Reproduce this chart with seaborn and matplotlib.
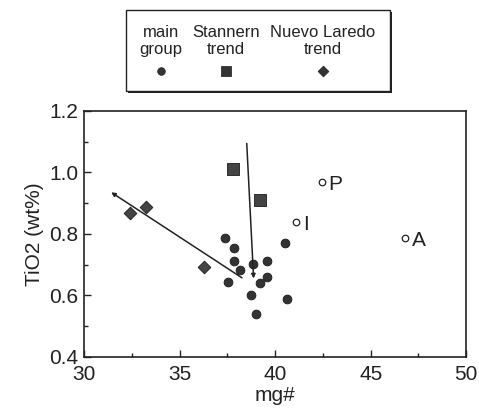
import matplotlib
matplotlib.use("Agg")
import matplotlib.pyplot as plt
from matplotlib.patches import Rectangle
import seaborn as sns
import pandas as pd

# Main group eucrites
main_mg = [37.36, 37.85, 37.83, 38.14, 37.54, 38.85, 39.57, 39.55, 39.22, 38.73, 39.01, 40.49, 40.64]
main_ti = [0.785, 0.753, 0.712, 0.683, 0.643, 0.702, 0.711, 0.661, 0.640, 0.601, 0.539, 0.770, 0.589]
# Stannern trend
stan_mg = [37.81, 39.22]
stan_ti = [1.011, 0.910]
# Nuevo Laredo trend
nl_mg = [32.40, 33.21, 36.27]
nl_ti = [0.868, 0.886, 0.693]
# Labelled individual samples
other_names = ["P", "I", "A"]
other_mg = [42.45, 41.11, 46.79]
other_ti = [0.968, 0.840, 0.785]
# Trend arrows: (start mg, start TiO2) -> (end mg, end TiO2)
nl_arrow = [(38.26, 0.657), (31.41, 0.935)]
stan_arrow = [(38.51, 1.094), (38.87, 0.655)]

sns.set_style("ticks")
plt.rcParams["font.family"] = ["Liberation Sans", "DejaVu Sans"]

fig = plt.figure(figsize=(4.79, 4.15), dpi=100)
ax = fig.add_axes([0.176, 0.140, 0.797, 0.593])

df = pd.concat([
    pd.DataFrame({"mg": main_mg, "ti": main_ti, "grp": "main"}),
    pd.DataFrame({"mg": stan_mg, "ti": stan_ti, "grp": "stannern"}),
    pd.DataFrame({"mg": nl_mg, "ti": nl_ti, "grp": "nl"}),
], ignore_index=True)

sns.scatterplot(data=df[df.grp == "main"], x="mg", y="ti", marker="o", s=40,
                color="#333333", edgecolor="#1a1a1a", linewidth=0.6, ax=ax, zorder=3)
sns.scatterplot(data=df[df.grp == "stannern"], x="mg", y="ti", marker="s", s=80,
                color="#444444", edgecolor="#1a1a1a", linewidth=0.6, ax=ax, zorder=3)
sns.scatterplot(data=df[df.grp == "nl"], x="mg", y="ti", marker="D", s=42,
                color="#444444", edgecolor="#1a1a1a", linewidth=0.6, ax=ax, zorder=3)
sns.scatterplot(x=other_mg, y=other_ti, marker="o", s=22, facecolor="white",
                edgecolor="#222222", linewidth=0.9, ax=ax, zorder=3)
for name, x, y in zip(other_names, other_mg, other_ti):
    ax.text(x + 0.35, y - 0.008, name, fontsize=15, va="center", ha="left", color="#222222")

for (x0, y0), (x1, y1) in (nl_arrow, stan_arrow):
    ax.annotate("", xy=(x1, y1), xytext=(x0, y0),
                arrowprops=dict(arrowstyle="-|>", color="#222222", lw=1.1,
                                mutation_scale=6, shrinkA=0, shrinkB=0))

ax.set_xlim(30, 50)
ax.set_ylim(0.4, 1.2)
ax.set_xticks([30, 35, 40, 45, 50])
ax.set_xticks([32.5, 37.5, 42.5, 47.5], minor=True)
ax.set_yticks([0.4, 0.6, 0.8, 1.0, 1.2])
ax.set_yticks([0.5, 0.7, 0.9, 1.1], minor=True)
ax.set_yticklabels(["0.4", "0.6", "0.8", "1.0", "1.2"])
ax.tick_params(which="both", direction="in", labelsize=15, colors="#222222")
ax.tick_params(which="major", length=5, width=1)
ax.tick_params(which="minor", length=3, width=1)
ax.tick_params(axis="x", pad=6)
ax.tick_params(axis="y", pad=4)
for sp in ax.spines.values():
    sp.set_visible(True)
    sp.set_linewidth(1.2)
    sp.set_color("#222222")
ax.set_xlabel("mg#", fontsize=15, color="#222222", labelpad=1)
ax.set_ylabel("TiO2 (wt%)", fontsize=15, color="#222222", labelpad=4)

# Legend panel above the plot, coordinates in pixels from the top-left corner
lg = fig.add_axes([0, 0, 1, 1])
lg.set_xlim(0, 479)
lg.set_ylim(415, 0)
lg.axis("off")
# drop shadow on the right and bottom, then the frame
lg.add_patch(Rectangle((128, 12), 264, 81, facecolor="#222222", edgecolor="none", zorder=1))
lg.add_patch(Rectangle((126, 10), 264, 81, facecolor="white", edgecolor="#222222",
                       linewidth=1.0, zorder=2))
entries = [(161, "main\ngroup", "o", 30), (226, "Stannern\ntrend", "s", 60),
           (323, "Nuevo Laredo\ntrend", "D", 30)]
for cx, label, mk, sz in entries:
    lg.text(cx, 41, label, ha="center", va="center", fontsize=12,
            linespacing=1.2, color="#222222", zorder=3)
    lg.scatter([cx], [71], marker=mk, s=sz, color="#333333", edgecolor="#1a1a1a",
               linewidth=0.5, zorder=3)

fig.savefig("out.png", dpi=100)
